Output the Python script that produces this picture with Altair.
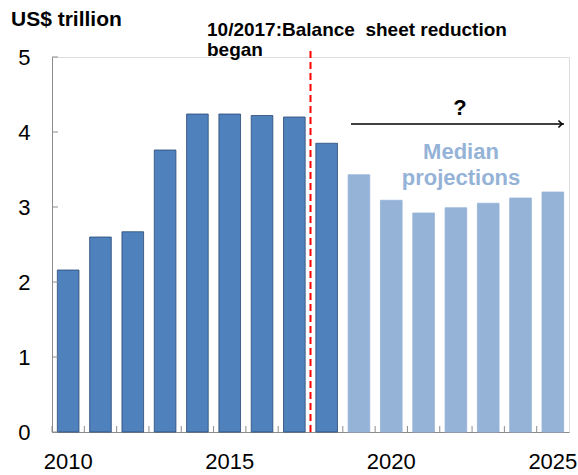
import altair as alt
import pandas as pd

years = list(range(2010, 2026))
values = [2.16, 2.60, 2.67, 3.76, 4.24, 4.24, 4.22, 4.20, 3.85,
          3.43, 3.09, 2.92, 2.99, 3.05, 3.12, 3.20]
kind = ["Actual"] * 9 + ["Projection"] * 7
y_ticks = [0, 1, 2, 3, 4, 5]
x_labels = [2010, 2015, 2020, 2025]

df = pd.DataFrame({"year": years, "value": values, "kind": kind})
tick_df = pd.DataFrame({"v": y_ticks})
red_df = pd.DataFrame({"year": [2018]})

W, H = 517, 375
FONT = "Liberation Sans"

xscale = alt.Scale(domain=years, paddingInner=0, paddingOuter=0)
yscale = alt.Scale(domain=[0, 5], nice=False)

bars = alt.Chart(df).mark_bar(width={"band": 0.67}, strokeWidth=0.8).encode(
    x=alt.X("year:O", scale=xscale,
            axis=alt.Axis(values=x_labels, title=None, labelAngle=0, tickSize=0,
                          labelFontSize=22, labelFont=FONT, labelColor="#000000",
                          labelPadding=19, domainColor="#8c8c8c", domainWidth=1)),
    y=alt.Y("value:Q", scale=yscale,
            axis=alt.Axis(values=y_ticks, format="d", title=None, tickSize=0,
                          grid=False, labelFontSize=22, labelFont=FONT,
                          labelColor="#000000", labelPadding=22,
                          domainColor="#8c8c8c", domainWidth=1)),
    color=alt.Color("kind:N", legend=None,
                    scale=alt.Scale(domain=["Actual", "Projection"],
                                    range=["#4F81BD", "#95B3D7"])),
    stroke=alt.Stroke("kind:N", legend=None,
                      scale=alt.Scale(domain=["Actual", "Projection"],
                                      range=["#2A4A75", "#95B3D7"])),
)

xticks = alt.Chart(df).mark_rule(color="#8c8c8c", strokeWidth=1).encode(
    x=alt.X("year:O", bandPosition=0, scale=xscale),
    y=alt.value(H), y2=alt.value(H - 6),
)

yticks = alt.Chart(tick_df).mark_rule(color="#8c8c8c", strokeWidth=1).encode(
    y=alt.Y("v:Q", scale=yscale), x=alt.value(0), x2=alt.value(6),
)

redline = alt.Chart(red_df).mark_rule(color="#FF0000", strokeWidth=2,
                                      strokeDash=[7, 4]).encode(
    x=alt.X("year:O", bandPosition=0, scale=xscale),
    y=alt.value(-6), y2=alt.value(H),
)

def txt(s, x, y, size, color="#000000", align="left"):
    return alt.Chart(pd.DataFrame({"t": [s]})).mark_text(
        text=s, fontSize=size, fontWeight="bold", font=FONT, color=color,
        align=align, baseline="middle").encode(x=alt.value(x), y=alt.value(y))

title = txt("US$ trillion", -41, -37, 21)
ann1 = txt("10/2017:Balance\u00a0 sheet reduction", 155, -27, 19)
ann2 = txt("began", 155, -7, 19)
qmark = txt("?", 408, 51, 22, align="center")
med1 = txt("Median", 409, 95, 22, color="#95B3D7", align="center")
med2 = txt("projections", 409, 121, 22, color="#95B3D7", align="center")

arrow_line = alt.Chart(pd.DataFrame({"a": [0]})).mark_rule(
    color="#000000", strokeWidth=1.5).encode(
    x=alt.value(299), x2=alt.value(512), y=alt.value(67))
arrow_head = alt.Chart(pd.DataFrame({"a": [0]})).mark_point(
    shape="M-1,-1L0,0L-1,1", filled=False, color="#000000", strokeWidth=1.5,
    size=50, opacity=1).encode(x=alt.value(510), y=alt.value(67))

chart = alt.layer(
    bars, xticks, yticks, redline, title, ann1, ann2, qmark, med1, med2,
    arrow_line, arrow_head,
).properties(
    width=W, height=H,
    padding={"left": 52, "top": 57, "right": 9, "bottom": 43},
    autosize=alt.AutoSizeParams(type="none"),
).configure_view(stroke=None).configure(background="#ffffff")

chart.save("out.html", embed_options={"renderer": "svg", "actions": False})
